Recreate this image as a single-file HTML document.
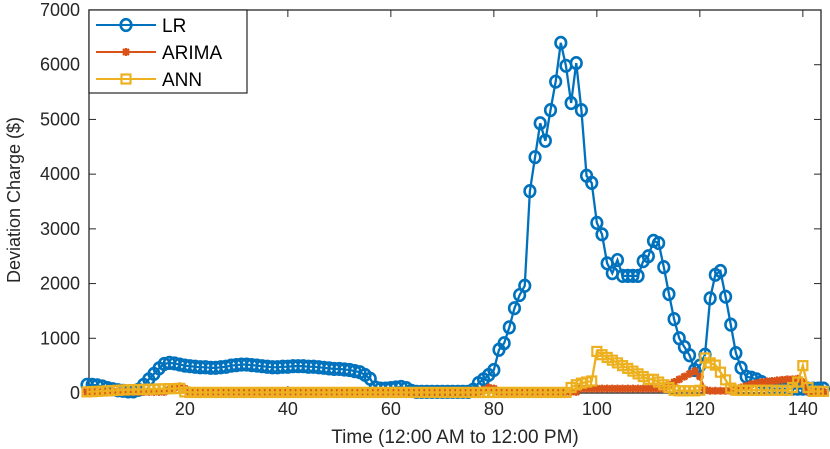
<!DOCTYPE html>
<html><head><meta charset="utf-8"><style>
html,body{margin:0;padding:0;background:#fff;}
svg{display:block;font-family:"Liberation Sans",Arial,sans-serif;}
</style></head><body>
<svg id="chart" width="830" height="449" viewBox="0 0 830 449" xmlns="http://www.w3.org/2000/svg">
<g id="axes"></g>
<g id="series"></g>
<g id="legend"></g>
<text x="0" y="0" transform="translate(20,200) rotate(-90)" text-anchor="middle" font-size="18" fill="#262626">Deviation Charge ($)</text>
<text x="455" y="443" text-anchor="middle" font-size="19" fill="#262626">Time (12:00 AM to 12:00 PM)</text>
</svg>
<script>
const xTicks=[20,40,60,80,100,120,140];
const yTicks=[0,1000,2000,3000,4000,5000,6000,7000];
const lrValues=[150,150,140,120,90,70,50,40,30,30,60,150,250,350,450,530,550,540,520,500,490,480,470,470,460,460,470,480,500,510,520,520,510,500,490,480,470,470,480,480,490,490,490,480,480,470,460,450,440,440,430,420,400,380,330,260,100,80,80,90,100,110,90,40,20,20,20,20,20,20,20,20,20,20,20,60,180,250,330,420,790,910,1200,1550,1790,1960,3690,4310,4930,4610,5170,5690,6400,5980,5300,6030,5170,3970,3840,3110,2900,2370,2190,2430,2140,2140,2140,2140,2410,2500,2780,2740,2300,1810,1350,1000,840,690,420,500,700,1730,2160,2230,1760,1250,730,460,300,280,250,200,150,80,80,80,80,80,80,80,80,80,80,80];
const arimaValues=[20,20,20,20,20,20,20,20,20,20,20,20,20,20,20,20,60,100,120,80,20,20,20,20,20,20,20,20,20,20,20,20,20,20,20,20,20,20,20,20,20,20,20,20,20,20,20,20,20,20,20,20,20,20,20,20,20,20,20,20,20,20,20,20,20,20,20,20,20,20,20,20,20,20,20,20,20,60,100,80,20,20,20,20,20,20,20,20,20,20,20,20,20,20,20,20,80,80,80,80,80,80,80,80,80,80,80,80,80,80,80,80,80,150,200,250,300,350,400,300,60,40,40,40,40,40,80,100,130,160,180,200,210,220,230,240,250,250,260,200,30,20,20,20];
const annValues=[20,25,30,35,40,45,50,55,60,60,65,65,70,70,75,75,80,80,85,20,10,10,10,10,10,10,10,10,10,10,10,10,10,10,10,10,10,10,10,10,10,10,10,10,10,10,10,10,10,10,10,10,10,10,10,10,10,10,10,10,10,10,10,10,10,10,10,10,10,10,10,10,10,10,10,10,10,10,10,10,10,10,10,10,10,10,10,10,10,10,10,10,10,10,100,150,180,200,220,760,700,650,600,550,500,450,400,350,300,250,250,200,150,100,50,40,40,40,40,50,640,550,510,380,240,90,50,50,50,50,50,50,50,50,50,50,50,100,200,500,100,30,30,30];
const NS="http://www.w3.org/2000/svg";
const X0=87,XS=5.15,Y0=393,YS=383/7000;
function xs(i){return X0+(i-1)*XS;}
function ys(v){return Y0-v*YS;}
function el(t,a,p){const e=document.createElementNS(NS,t);for(const k in a)e.setAttribute(k,a[k]);p.appendChild(e);return e;}
const axes=document.getElementById('axes');
let box=el('rect',{x:89,y:10,width:732,height:383,fill:'none',stroke:'#262626','stroke-width':1.3},axes);


yTicks.forEach(v=>{
  const y=ys(v);
  el('line',{x1:89,y1:y,x2:96,y2:y,stroke:'#262626'},axes);
  el('line',{x1:821,y1:y,x2:814,y2:y,stroke:'#262626'},axes);
  const t=el('text',{x:80,y:y+6,'text-anchor':'end','font-size':18,fill:'#262626'},axes);
  t.textContent=v;
  
  
});
xTicks.forEach(v=>{
  const x=xs(v);
  el('line',{x1:x,y1:393,x2:x,y2:386,stroke:'#262626'},axes);
  el('line',{x1:x,y1:10,x2:x,y2:17,stroke:'#262626'},axes);
  const t=el('text',{x:x,y:415,'text-anchor':'middle','font-size':18,fill:'#262626'},axes);
  t.textContent=v;
  
  
});
const series=document.getElementById('series');
function drawSeries(vals,color,marker,name){
  const g=el('g',{},series);
  
  
  el('polyline',{points:vals.map((v,i)=>xs(i+1)+','+ys(v)).join(' '),fill:'none',stroke:color,'stroke-width':2.3},g);
  vals.forEach((v,i)=>{drawMarker(g,xs(i+1),ys(v),color,marker);});
}
function drawMarker(g,x,y,c,m){
  if(m==='o')el('ellipse',{cx:x,cy:y,rx:5.3,ry:5.8,fill:'none',stroke:c,'stroke-width':2.6},g);
  else if(m==='s')el('rect',{x:x-4.5,y:y-4.5,width:9,height:9,fill:'none',stroke:c,'stroke-width':2.2},g);
  else{el('path',{d:`M${x-4},${y}H${x+4}M${x},${y-4}V${y+4}M${x-3},${y-3}L${x+3},${y+3}M${x-3},${y+3}L${x+3},${y-3}`,stroke:c,'stroke-width':2.3},g);}
}
drawSeries(lrValues,'#0072BD','o','series-lr');
drawSeries(arimaValues,'#D95319','*','series-arima');
drawSeries(annValues,'#EDB120','s','series-ann');
const lg=document.getElementById('legend');
el('rect',{x:89,y:10,width:158,height:83,fill:'#fff',stroke:'#262626','stroke-width':1.2},lg);
[['LR','#0072BD','o'],['ARIMA','#D95319','*'],['ANN','#EDB120','s']].forEach((d,k)=>{
  const y=25+k*27;
  const g=el('g',{},lg);
  
  
  el('line',{x1:96,y1:y,x2:156,y2:y,stroke:d[1],'stroke-width':2},g);
  drawMarker(g,126,y,d[1],d[2]);
  const t=el('text',{x:162,y:y+7,'font-size':19,fill:'#000'},g);
  t.textContent=d[0];
});
</script>
</body></html>
